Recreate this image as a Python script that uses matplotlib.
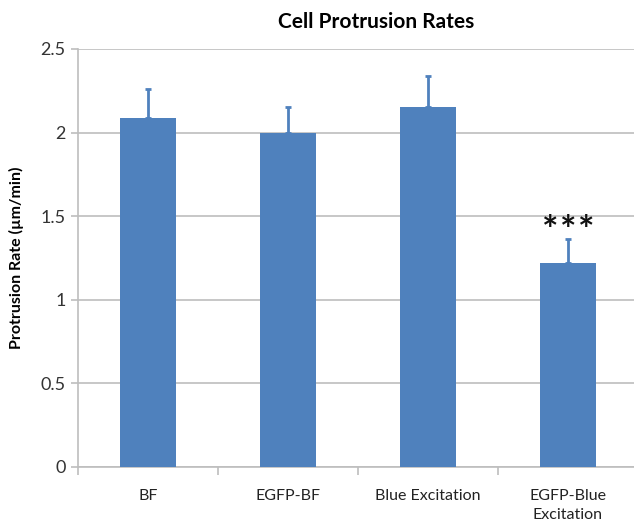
import matplotlib
matplotlib.use("Agg")
import matplotlib.pyplot as plt
import numpy as np

categories = ["BF", "EGFP-BF", "Blue Excitation", "EGFP-Blue\nExcitation"]
rates = [2.09, 2.00, 2.15, 1.22]
errors = [0.17, 0.15, 0.19, 0.145]
yticks = [0, 0.5, 1, 1.5, 2, 2.5]
ytick_labels = ["0", "0.5", "1", "1.5", "2", "2.5"]

plt.rcParams['font.family'] = ['Lato', 'DejaVu Sans']
W, H = 634, 529
fig = plt.figure(figsize=(W/100, H/100), dpi=100)
left, right = 78/W, 638/W
bottom, top = 1-466.7/H, 1-49/H
ax = fig.add_axes([left, bottom, right-left, top-bottom])

color = "#4F81BD"
x = np.arange(len(categories))
ax.bar(x, rates, width=0.4, color=color, zorder=3)
ax.errorbar(x, rates, yerr=[np.zeros(len(errors)), errors], fmt='none',
            ecolor=color, elinewidth=2, capsize=2, capthick=2, zorder=4)

ax.set_xlim(-0.5, len(categories)-0.5)
ax.set_ylim(0, 2.5)
ax.set_yticks(yticks)
ax.set_yticklabels(ytick_labels, fontsize=13, color="#333333")
ax.yaxis.grid(True, color="#BEBEBE", linewidth=1.2, zorder=0)
ax.set_axisbelow(True)

ax.set_xticks(x)
ax.set_xticklabels(categories, fontsize=11.5, color="#222222", linespacing=1.5)
ax.tick_params(axis='x', length=0, pad=16)
ax.set_xticks(np.arange(-0.5, len(categories)), minor=True)
ax.tick_params(axis='x', which='minor', length=6, color="#BEBEBE", width=1.2)
ax.tick_params(axis='y', length=5, color="#BEBEBE", width=1.2, pad=4)

for s in ['top', 'right']:
    ax.spines[s].set_visible(False)
for s in ['left', 'bottom']:
    ax.spines[s].set_color("#BEBEBE")
    ax.spines[s].set_linewidth(1.2)

for dx in (-0.13, 0.0, 0.13):
    ax.text(3 + dx, 1.41, "*", ha='center', va='center', fontsize=28,
            fontweight='bold', color="#111111")

ax.set_ylabel("Protrusion Rate (µm/min)", fontsize=11.5, fontweight='bold', labelpad=12)
fig.text(376/W, 1-22/H, "Cell Protrusion Rates", ha='center', va='center',
         fontsize=15, fontweight='bold')

fig.savefig("out.png", dpi=100, facecolor='white')
